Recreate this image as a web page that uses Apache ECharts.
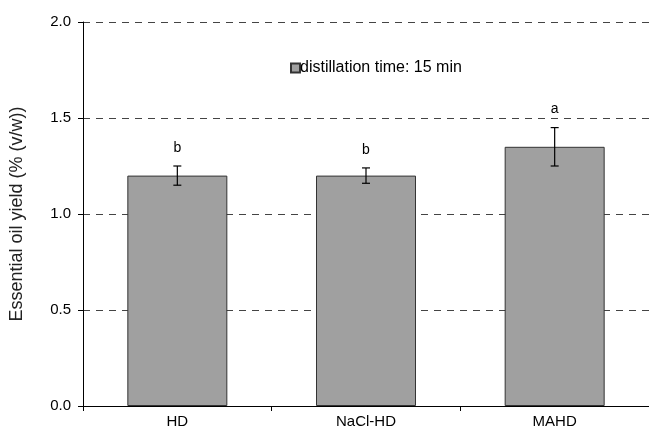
<!DOCTYPE html>
<html lang="en">
<head>
    <meta charset="utf-8">
    <title>Essential oil yield</title>
    <script src="https://cdn.jsdelivr.net/npm/echarts@6/dist/echarts.min.js"></script>
    <style>
        html, body { margin: 0; padding: 0; background: #fff; }
        #main { width: 649px; height: 433px; }
    </style>
</head>
<body>
<div id="main"></div>
<script type="text/javascript">
    var methods = ['HD', 'NaCl-HD', 'MAHD'];
    var yieldValues = [1.2, 1.2, 1.35];
    var yieldErrors = [0.05, 0.04, 0.1];
    var groupLetters = ['b', 'b', 'a'];
    var yTicks = [0, 0.5, 1.0, 1.5, 2.0];

    var myChart = echarts.init(document.getElementById('main'));
    var font = 'Liberation Sans, Arial, sans-serif';

    var errorData = methods.map(function (m, i) {
        return [i, yieldValues[i] - yieldErrors[i], yieldValues[i] + yieldErrors[i], groupLetters[i]];
    });

    var option = {
        animation: false,
        backgroundColor: '#fff',
        textStyle: { fontFamily: font },
        legend: {
            left: 290,
            top: 60,
            padding: 0,
            itemWidth: 9,
            itemHeight: 9,
            itemGap: 0,
            textStyle: { fontFamily: font, fontSize: 16, color: '#000', padding: [0, 0, 0, -5] },
            data: [{ name: 'distillation time: 15 min', icon: 'rect' }]
        },
        grid: { left: 81, top: 22, width: 570, bottom: 27 },
        xAxis: {
            type: 'category',
            data: methods,
            axisLine: { lineStyle: { color: '#000', width: 1 } },
            axisTick: { show: true, length: 5, lineStyle: { color: '#000' } },
            axisLabel: { color: '#000', fontSize: 15, fontFamily: font, margin: 8 }
        },
        yAxis: {
            type: 'value',
            min: yTicks[0],
            max: yTicks[yTicks.length - 1],
            interval: 0.5,
            name: 'Essential oil yield (% (v/w))',
            nameLocation: 'middle',
            nameGap: 57,
            nameTextStyle: { color: '#222', fontSize: 18, fontFamily: font },
            axisLine: { show: true, lineStyle: { color: '#000', width: 1 } },
            axisTick: { show: true, length: 5, lineStyle: { color: '#000' } },
            axisLabel: {
                color: '#000', fontSize: 15, fontFamily: font, margin: 12,
                formatter: function (v) { return v.toFixed(1); }
            },
            splitLine: { show: true, lineStyle: { color: '#444', type: [7, 6], width: 1 } }
        },
        series: [{
            name: 'distillation time: 15 min',
            type: 'bar',
            data: yieldValues,
            barCategoryGap: '47%',
            itemStyle: { color: '#a0a0a0', borderColor: '#333', borderWidth: 1 }
        }, {
            type: 'custom',
            data: errorData,
            z: 10,
            renderItem: function (params, api) {
                var lo = api.coord([api.value(0), api.value(1)]);
                var hi = api.coord([api.value(0), api.value(2)]);
                var cap = 4;
                return {
                    type: 'group',
                    children: [{
                        type: 'line',
                        shape: { x1: hi[0], y1: hi[1], x2: lo[0], y2: lo[1] },
                        style: { stroke: '#000', lineWidth: 1.2 }
                    }, {
                        type: 'line',
                        shape: { x1: hi[0] - cap, y1: hi[1], x2: hi[0] + cap, y2: hi[1] },
                        style: { stroke: '#000', lineWidth: 1.2 }
                    }, {
                        type: 'line',
                        shape: { x1: lo[0] - cap, y1: lo[1], x2: lo[0] + cap, y2: lo[1] },
                        style: { stroke: '#000', lineWidth: 1.2 }
                    }, {
                        type: 'text',
                        x: hi[0],
                        y: hi[1] - 18,
                        style: {
                            text: errorData[params.dataIndex][3],
                            fill: '#000',
                            font: '14px ' + font,
                            align: 'center',
                            verticalAlign: 'middle'
                        }
                    }]
                };
            }
        }]
    };

    myChart.setOption(option);
</script>
</body>
</html>
